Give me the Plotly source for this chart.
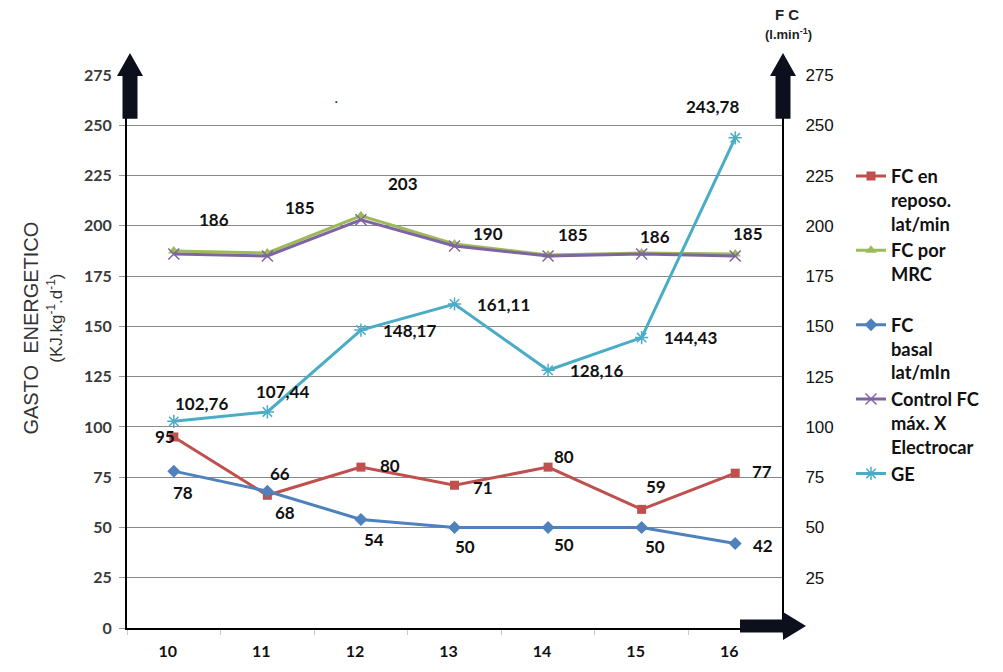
import plotly.graph_objects as go

# ---- data -------------------------------------------------------------
ages = ["10", "11", "12", "13", "14", "15", "16"]
fc_reposo = [95, 66, 80, 71, 80, 59, 77]
fc_mrc = [187.5, 186.5, 205, 191, 185.5, 186.5, 186]
fc_basal = [78, 68, 54, 50, 50, 50, 42]
fc_control = [186, 185, 203, 190, 185, 186, 185]
ge = [102.76, 107.44, 148.17, 161.11, 128.16, 144.43, 243.78]
y_ticks = [0, 25, 50, 75, 100, 125, 150, 175, 200, 225, 250, 275]
y2_ticks = [25, 50, 75, 100, 125, 150, 175, 200, 225, 250, 275]

# label offsets in pixels (dx, dy) for each point
off_reposo = [(-9, 0), (13, 22), (29, 2), (28, -2), (16, 11), (14, 23), (27, 2)]
off_basal = [(9, -21), (18, -21), (13, -20), (10, -19), (16, -17), (13, -19), (28, -2)]
off_control = [(40, 34), (33, 48), (42, 36), (33, 12), (25, 21), (13, 17), (13, 22)]
off_ge = [(28, 18), (15, 20), (49, 0), (49, 0), (48, 0), (49, 0), (-23, 31)]

# ---- geometry helpers (plot area in pixels) ----------------------------
L, R, T, B = 127, 782, 75, 631
W, H = 1003, 672


def px(x):
    return (x - L) / (R - L)


def py(y):
    return (B - y) / (B - T)


RED, GREEN, BLUE, PURPLE, CYAN = "#C0504D", "#9BBB59", "#4F81BD", "#8064A2", "#4BACC6"
LABEL_FONT = dict(family="Lato", size=17, color="#111111", weight="bold")

fig = go.Figure()

fig.add_trace(go.Scatter(
    x=ages, y=fc_reposo, name="FC en<br>reposo.<br>lat/min", mode="lines+markers",
    line=dict(color=RED, width=3), marker=dict(symbol="square", size=9, color=RED)))
fig.add_trace(go.Scatter(
    x=ages, y=fc_mrc, name="FC por<br>MRC<br> ", mode="lines+markers",
    line=dict(color=GREEN, width=3), marker=dict(symbol="triangle-up", size=10, color=GREEN)))
fig.add_trace(go.Scatter(
    x=ages, y=fc_basal, name="FC<br>basal<br>lat/mIn", mode="lines+markers",
    line=dict(color=BLUE, width=3), marker=dict(symbol="diamond", size=10, color=BLUE)))
fig.add_trace(go.Scatter(
    x=ages, y=fc_control, name="Control FC<br>máx. X<br>Electrocar", mode="lines+markers",
    line=dict(color=PURPLE, width=3),
    marker=dict(symbol="x-thin-open", size=11, color=PURPLE, line=dict(width=1.5, color=PURPLE))))
fig.add_trace(go.Scatter(
    x=ages, y=ge, name="GE", mode="lines+markers",
    line=dict(color=CYAN, width=3),
    marker=dict(symbol="asterisk-open", size=11, color=CYAN, line=dict(width=1.5, color=CYAN))))

# invisible trace carrying the right-hand axis
fig.add_trace(go.Scatter(x=ages, y=fc_control, yaxis="y2", mode="none",
                         showlegend=False, hoverinfo="skip"))

# ---- value labels ------------------------------------------------------
annotations = []


def add_labels(values, offsets, fmt):
    for i, (v, (dx, dy)) in enumerate(zip(values, offsets)):
        annotations.append(dict(x=i, y=v, xref="x", yref="y", text=fmt(v),
                                showarrow=False, xshift=dx, yshift=dy,
                                xanchor="center", yanchor="middle", font=LABEL_FONT))


add_labels(fc_reposo, off_reposo, lambda v: f"{v:d}")
add_labels(fc_basal, off_basal, lambda v: f"{v:d}")
add_labels(fc_control, off_control, lambda v: f"{v:d}")
add_labels(ge, off_ge, lambda v: f"{v:.2f}".replace(".", ","))


def paper_text(x, y, text, font, angle=0):
    return dict(x=px(x), y=py(y), xref="paper", yref="paper", text=text,
                textangle=angle, showarrow=False, xanchor="center", yanchor="middle",
                font=font)


# axis titles
annotations += [
    paper_text(31, 330, "GASTO  ENERGETICO",
               dict(family="Liberation Sans", size=20, color="#333333"), -90),
    paper_text(55, 320, "(KJ.kg<sup>-1</sup>.d<sup>-1</sup>)",
               dict(family="Liberation Sans", size=17, color="#333333"), -90),
    paper_text(787, 14, "F C",
               dict(family="Liberation Sans", size=15, color="#222222", weight="bold")),
    paper_text(788, 34, "(l.min<sup>-1</sup>)",
               dict(family="Liberation Sans", size=13, color="#222222", weight="bold")),
    paper_text(336, 98, ".", dict(family="Liberation Sans", size=16, color="#222222")),
]

# ---- block arrows on the axes ------------------------------------------
ARROW = "#0c101c"


def up_arrow(cx, tip, base, bottom, hw, bw):
    pts = [(cx - bw, bottom), (cx - bw, base), (cx - hw, base), (cx, tip),
           (cx + hw, base), (cx + bw, base), (cx + bw, bottom)]
    return "M " + " L ".join(f"{px(x):.5f},{py(y):.5f}" for x, y in pts) + " Z"


def right_arrow(cy, tip, base, tail, hh, bh):
    pts = [(tail, cy - bh), (base, cy - bh), (base, cy - hh), (tip, cy),
           (base, cy + hh), (base, cy + bh), (tail, cy + bh)]
    return "M " + " L ".join(f"{px(x):.5f},{py(y):.5f}" for x, y in pts) + " Z"


shapes = [
    dict(type="path", xref="paper", yref="paper", path=up_arrow(130, 53, 76, 119, 13, 7.5),
         fillcolor=ARROW, line=dict(width=0), layer="above"),
    dict(type="path", xref="paper", yref="paper", path=up_arrow(783, 53, 76, 119, 13, 7.5),
         fillcolor=ARROW, line=dict(width=0), layer="above"),
    dict(type="path", xref="paper", yref="paper", path=right_arrow(629, 806, 783, 740, 14, 6.5),
         fillcolor=ARROW, line=dict(width=0), layer="above"),
]

TICK_FONT = dict(family="Lato", size=16, color="#3a3a3a", weight="bold")

fig.update_layout(
    width=W, height=H, autosize=False,
    margin=dict(l=L, r=W - R, t=T, b=H - B),
    paper_bgcolor="white", plot_bgcolor="white",
    showlegend=True,
    legend=dict(x=px(851), y=py(158), xanchor="left", yanchor="top",
                font=dict(family="Lato", size=18.3, color="#111111", weight="bold"),
                valign="top", tracegroupgap=0, bgcolor="rgba(0,0,0,0)"),
    xaxis=dict(type="category", categoryorder="array", categoryarray=ages,
               range=[-0.5, 6.5], autorange=False,
               tickson="boundaries", ticks="outside", ticklen=5, tickcolor="#c8c8c8",
               showline=True, linecolor="black", linewidth=2, showgrid=False,
               tickfont=dict(family="Lato", size=16, color="#111111", weight="bold"),
               ticklabelstandoff=8, ticklabelshift=-6, zeroline=False),
    yaxis=dict(range=[0, 275], tickvals=y_ticks, ticks="outside", ticklen=6,
               tickcolor="#9a9a9a", showline=True, linecolor="black", linewidth=2,
               showgrid=True, gridcolor="#8a8a8a", gridwidth=1, zeroline=False,
               tickfont=TICK_FONT, ticklabelstandoff=4),
    yaxis2=dict(range=[0, 275], tickvals=y2_ticks, overlaying="y", side="right",
                showgrid=False, showline=True, linecolor="black", linewidth=2,
                ticks="", zeroline=False, ticklabelstandoff=18,
                tickfont=dict(family="Liberation Sans", size=17, color="#111111")),
    annotations=annotations,
    shapes=shapes,
)

fig.write_html("out.html")
